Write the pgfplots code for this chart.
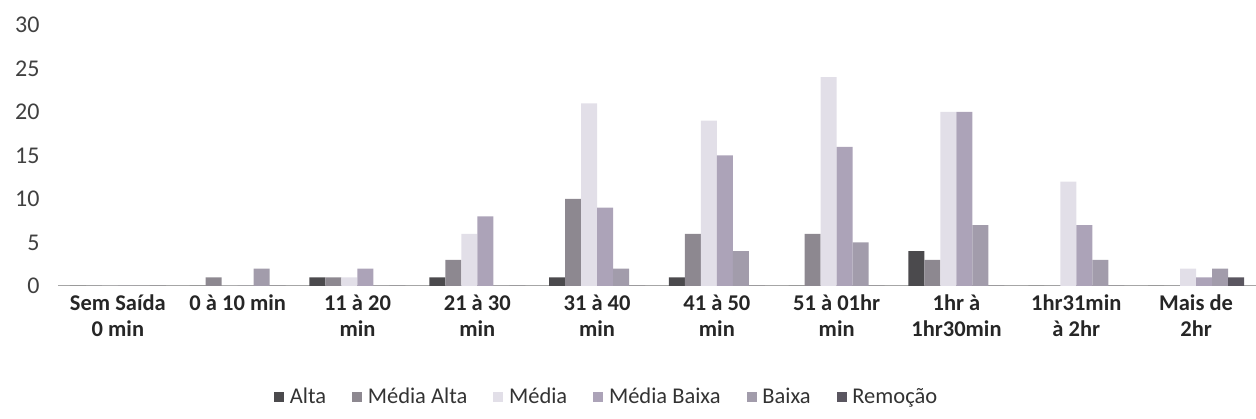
\documentclass[border=0pt]{standalone}
\usepackage{fontspec}
\setmainfont{Carlito}
\usepackage{pgfplots}
\pgfplotsset{compat=1.18}
\definecolor{cAlta}{HTML}{4B4A4D}
\definecolor{cMAlta}{HTML}{8D8890}
\definecolor{cMedia}{HTML}{E2DFE8}
\definecolor{cMBaixa}{HTML}{ACA3B8}
\definecolor{cBaixa}{HTML}{A29CAB}
\definecolor{cRem}{HTML}{5A5660}
\begin{document}
\begin{tikzpicture}
\useasboundingbox (0,0) rectangle (1256pt,419pt);
\begin{axis}[
  at={(58pt,133pt)}, anchor=south west,
  scale only axis, width=1198pt, height=261pt,
  ybar=0pt, bar width=16pt,
  xmin=-0.5, xmax=9.5, ymin=0, ymax=30,
  xtick={0,...,9},
  xticklabels={{Sem Saída\\0 min},{0 à 10 min},{11 à 20\\min},{21 à 30\\min},{31 à 40\\min},{41 à 50\\min},{51 à 01hr\\min},{1hr à\\1hr30min},{1hr31min\\à 2hr},{Mais de\\2hr}},
  ytick={0,5,...,30},
  major tick length=0pt,
  axis x line=bottom, axis y line=left,
  x axis line style={draw=black!35, line width=1pt, -},
  y axis line style={draw=none},
  /pgf/number format/assume math mode=true,
  xticklabel style={align=center, font=\fontsize{22.5}{26}\selectfont\bfseries, text=black!85, yshift=-5pt},
  yticklabel style={font=\fontsize{24}{28}\selectfont, text=black!75, xshift=-15pt},
  legend style={at={(0.458,-0.425)}, anchor=center, draw=none, fill=none,
    font=\fontsize{22.5}{26}\selectfont, text=black!80,
    legend columns=6, /tikz/every even column/.append style={column sep=24pt}},
  legend image code/.code={\fill[#1] (0pt,-5pt) rectangle (10pt,5pt);},
]
\addplot[fill=cAlta, draw=none] coordinates {(0,0) (1,0) (2,1) (3,1) (4,1) (5,1) (6,0) (7,4) (8,0) (9,0)};
\addplot[fill=cMAlta, draw=none] coordinates {(0,0) (1,1) (2,1) (3,3) (4,10) (5,6) (6,6) (7,3) (8,0) (9,0)};
\addplot[fill=cMedia, draw=none] coordinates {(0,0) (1,0) (2,1) (3,6) (4,21) (5,19) (6,24) (7,20) (8,12) (9,2)};
\addplot[fill=cMBaixa, draw=none] coordinates {(0,0) (1,0) (2,2) (3,8) (4,9) (5,15) (6,16) (7,20) (8,7) (9,1)};
\addplot[fill=cBaixa, draw=none] coordinates {(0,0) (1,2) (2,0) (3,0) (4,2) (5,4) (6,5) (7,7) (8,3) (9,2)};
\addplot[fill=cRem, draw=none] coordinates {(0,0) (1,0) (2,0) (3,0) (4,0) (5,0) (6,0) (7,0) (8,0) (9,1)};
\legend{\,Alta, \,Média Alta, \,Média, \,Média Baixa, \,Baixa, \,Remoção}
\end{axis}
\end{tikzpicture}
\end{document}
